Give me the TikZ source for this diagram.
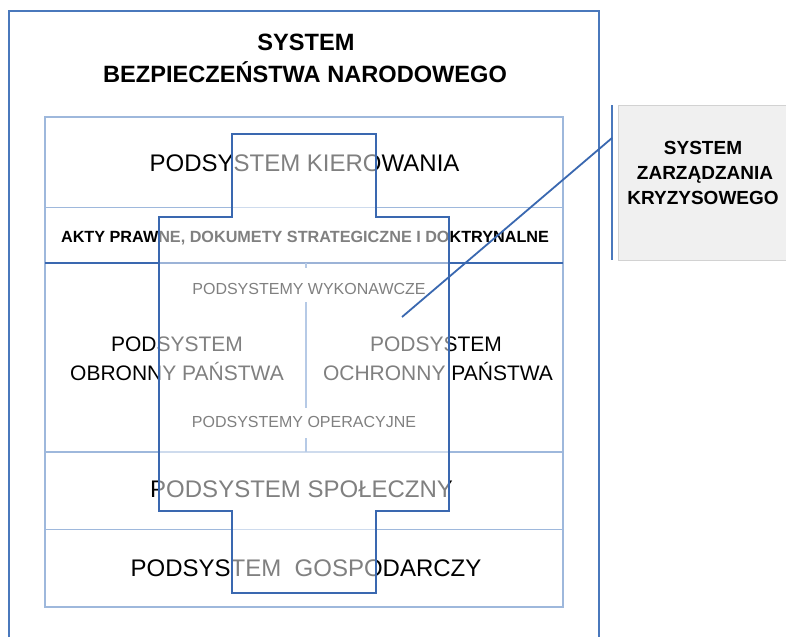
\documentclass[tikz,border=0pt]{standalone}
\usepackage{fontspec}
\setmainfont{Liberation Sans}
\begin{document}
\begin{tikzpicture}[x=1pt,y=-1pt]
\definecolor{frameblue}{RGB}{74,120,188}
\definecolor{crossblue}{RGB}{58,104,176}
\definecolor{gridblue}{RGB}{158,184,220}
\definecolor{dividerblue}{RGB}{110,150,205}
\definecolor{panelgray}{RGB}{240,240,240}
\tikzset{
  txt/.style={anchor=base, inner sep=0pt},
  bigtxt/.style={txt, font=\fontsize{24}{28}\selectfont},
  midtxt/.style={txt, font=\fontsize{21}{25}\selectfont},
  smalltxt/.style={txt, font=\fontsize{16}{19}\selectfont},
  titletxt/.style={txt, font=\bfseries\fontsize{23.6}{28}\selectfont},
  aktytxt/.style={txt, font=\bfseries\fontsize{16.2}{19}\selectfont},
  paneltxt/.style={txt, font=\bfseries\fontsize{19}{22}\selectfont},
  gridline/.style={draw=gridblue, line width=1.3pt},
  crossline/.style={draw=crossblue, line width=2.2pt, line join=miter},
}
\useasboundingbox (0,0) rectangle (786,637);
\fill[white] (0,0) rectangle (786,637);

% outer frame of the national security system
\draw[frameblue, line width=2.2pt] (9,637) -- (9,11) -- (599,11) -- (599,637);

% crisis management panel
\fill[panelgray] (618,105) rectangle (786,260);
\draw[gray!35, line width=0.6pt] (786,105) -- (618,105) -- (618,260) -- (786,260);
\draw[frameblue, line width=2pt] (612,105) -- (612,260);

% table of subsystems
\draw[gridline] (45,117) rectangle (563,607);
\draw[gridline] (45,207.5) -- (563,207.5);
\draw[gridline] (45,452) -- (563,452);
\draw[gridline] (45,529.5) -- (563,529.5);
\draw[crossblue, line width=1.8pt] (45,263) -- (563,263);
\draw[dividerblue, line width=1.2pt] (306,263) -- (306,268);
\draw[dividerblue, line width=1.2pt] (306,302) -- (306,408);
\draw[dividerblue, line width=1.2pt] (306,438) -- (306,452);

% titles
\node[titletxt] (title1) at (306,50) {SYSTEM};
\node[titletxt] (title2) at (305,82) {BEZPIECZEŃSTWA NARODOWEGO};
\node[paneltxt] (zk1) at (703,154.8) {SYSTEM};
\node[paneltxt] (zk2) at (705,179.8) {ZARZĄDZANIA};
\node[paneltxt] (zk3) at (703,204.8) {KRYZYSOWEGO};

% subsystem labels
\node[bigtxt] (kier) at (304.5,171) {PODSYSTEM KIEROWANIA};
\node[aktytxt] (akty) at (305,242.4) {AKTY PRAWNE, DOKUMETY STRATEGICZNE I DOKTRYNALNE};
\node[smalltxt] (wyk) at (309,294.7) {PODSYSTEMY WYKONAWCZE};
\node[midtxt] (obr1) at (177,351.5) {PODSYSTEM};
\node[midtxt] (obr2) at (177,380.5) {OBRONNY PAŃSTWA};
\node[midtxt] (och1) at (436,351.5) {PODSYSTEM};
\node[midtxt] (och2) at (438,380.5) {OCHRONNY PAŃSTWA};
\node[smalltxt] (oper) at (304,427.7) {PODSYSTEMY OPERACYJNE};
\node[bigtxt] (spol) at (301.6,497.6) {PODSYSTEM SPOŁECZNY};
\node[bigtxt] (gosp) at (306,576) {PODSYSTEM\ \ GOSPODARCZY};

% the cross: translucent white veil and its outline
\def\crosspath{(232,134) -- (376,134) -- (376,217) -- (449,217) -- (449,511)
  -- (376,511) -- (376,593) -- (232,593) -- (232,511) -- (159,511)
  -- (159,217) -- (232,217) -- cycle}
\fill[white, fill opacity=0.5] \crosspath;
\draw[crossline] \crosspath;

% pointer from the crisis management panel into the cross
\coordinate (pin) at (612,138);
\coordinate (tip) at (402,317);
\draw[crossblue, line width=1.8pt] (pin) -- (tip);
\end{tikzpicture}
\end{document}
